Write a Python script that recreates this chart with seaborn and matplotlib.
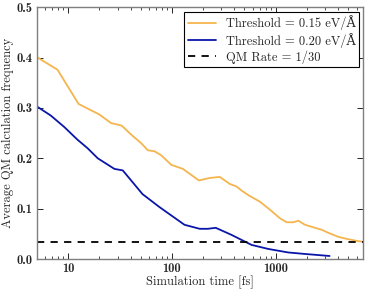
import numpy as np
import pandas as pd
import matplotlib
matplotlib.use("Agg")
import matplotlib.pyplot as plt
import seaborn as sns
from matplotlib.ticker import FixedLocator, FormatStrFormatter, LogLocator, NullFormatter

# simulation time [fs] and average QM frequency
t_015 = [5, 7.9, 12.6, 20, 25.9, 32.8, 40.5, 50.6, 58.6, 67.9, 78.9, 98.6, 127.6,
         182, 231, 289, 361, 419, 468, 563, 703, 878, 1096, 1273, 1474, 1648,
         1913, 2300, 2770, 3213, 4010, 4830, 6040, 7000]
f_015 = [0.401, 0.376, 0.308, 0.287, 0.270, 0.265, 0.247, 0.230, 0.216, 0.214,
         0.206, 0.187, 0.179, 0.156, 0.161, 0.163, 0.149, 0.144, 0.136, 0.125,
         0.114, 0.098, 0.081, 0.073, 0.073, 0.076, 0.068, 0.063, 0.058, 0.052,
         0.044, 0.040, 0.036, 0.034]

t_020 = [5, 6.8, 9.2, 12.3, 15.4, 19.3, 27.9, 33.6, 52, 76, 132, 185, 222, 264,
         374, 585, 846, 1318, 1915, 3300]
f_020 = [0.303, 0.285, 0.262, 0.237, 0.220, 0.200, 0.179, 0.176, 0.129, 0.103,
         0.068, 0.060, 0.060, 0.062, 0.048, 0.028, 0.020, 0.013, 0.010, 0.006]

qm_rate = 1 / 30
labels = ["Threshold = 0.15 eV/Å", "Threshold = 0.20 eV/Å", "QM Rate = 1/30"]

sns.set_style("ticks")
plt.rcParams['font.family'] = ['cmr10', 'DejaVu Serif']
plt.rcParams['axes.formatter.use_mathtext'] = True

df = pd.concat([
    pd.DataFrame({'t': t_015, 'f': f_015, 'series': labels[0]}),
    pd.DataFrame({'t': t_020, 'f': f_020, 'series': labels[1]}),
])

fig = plt.figure(figsize=(3.69, 2.92), dpi=100)
ax = fig.add_axes([0.100, 0.113, 0.885, 0.862])

sns.lineplot(data=df, x='t', y='f', hue='series',
             palette={labels[0]: '#f4b54e', labels[1]: '#0a16a8'},
             linewidth=1.3, ax=ax, legend=False)
ax.axhline(qm_rate, color='black', linestyle='--', linewidth=1.3, dashes=(4, 3.5))

ax.set_xscale('log')
ax.set_xlim(5, 7000)
ax.set_ylim(0, 0.5)
ax.xaxis.set_major_locator(FixedLocator([10, 100, 1000]))
ax.xaxis.set_major_formatter(FormatStrFormatter('%d'))
ax.xaxis.set_minor_locator(LogLocator(base=10, subs=np.arange(2, 10)))
ax.xaxis.set_minor_formatter(NullFormatter())
ax.yaxis.set_major_locator(FixedLocator([0, 0.1, 0.2, 0.3, 0.4, 0.5]))
ax.yaxis.set_major_formatter(FormatStrFormatter('%.1f'))

ax.tick_params(which='both', direction='in', top=True, right=True, color='black')
ax.tick_params(which='major', length=4, width=0.6, pad=3)
ax.tick_params(which='minor', length=2, width=0.5)
for lab in ax.get_xticklabels() + ax.get_yticklabels():
    lab.set_family(['cmb10', 'DejaVu Serif'])
    lab.set_fontsize(9)
for sp in ax.spines.values():
    sp.set_color('#7f7f7f')
    sp.set_linewidth(1.0)

ax.set_xlabel('Simulation time [fs]', fontsize=9, labelpad=0.5)
ax.set_ylabel('Average QM calculation frequency', fontsize=9, labelpad=2)

handles = [plt.Line2D([], [], color='#f4b54e', lw=1.3),
           plt.Line2D([], [], color='#0a16a8', lw=1.3),
           plt.Line2D([], [], color='black', lw=1.3, ls='--', dashes=(4, 3.5))]
leg = ax.legend(handles, labels, loc='upper right', fontsize=9, fancybox=False,
                framealpha=1, edgecolor='black', borderpad=0.3, labelspacing=0.2,
                handlelength=2.2, borderaxespad=0.35)
leg.get_frame().set_linewidth(0.8)

fig.savefig('out.png', dpi=100)
